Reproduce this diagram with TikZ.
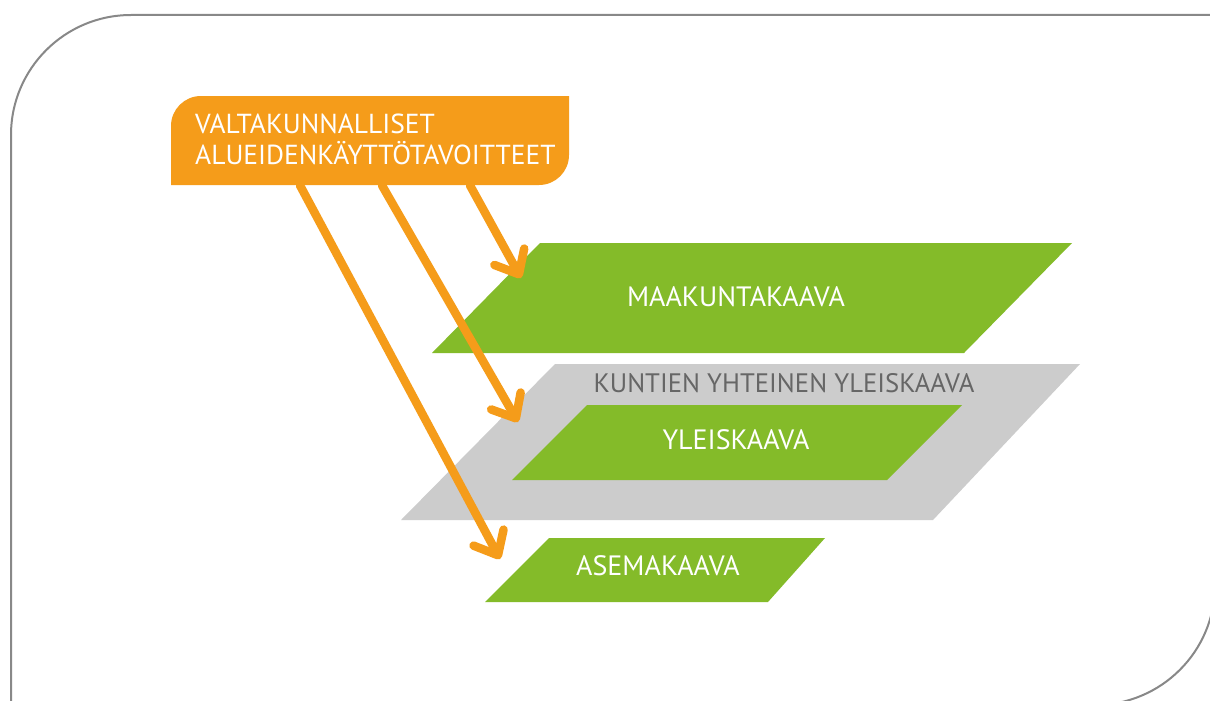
\documentclass[tikz,border=0pt]{standalone}
\usepackage{fontspec}
\setmainfont{PT Sans}
\usetikzlibrary{arrows.meta}
\definecolor{vatorange}{RGB}{245,156,26}
\definecolor{kaavagreen}{RGB}{132,187,41}
\definecolor{kaavagray}{RGB}{204,204,204}
\definecolor{framegray}{RGB}{136,136,136}
\definecolor{namegray}{RGB}{102,102,102}
\begin{document}
\begin{tikzpicture}[x=1pt,y=-1pt,
kaavatext/.style={
% The text:
text=white,
inner sep=0pt,
font=\fontsize{28}{31}\selectfont
},
plan/.style={fill=kaavagreen},
goal/.style={
draw=vatorange,line width=8.5pt,line cap=round,
-{Straight Barb[round,length=20pt,width=34pt]}
}
]
\clip (0,0) rectangle (1210,701);
\fill[white] (0,0) rectangle (1210,701);
% frame
\draw[framegray,line width=2pt] (11,710) -- (11,135) arc[start angle=180,end angle=270,radius=120] -- (1215,15) -- (1215,585) arc[start angle=0,end angle=90,radius=120] -- (0,705);
% plans
\fill[plan] (540,243) -- (1072,243) -- (964,353) -- (432,353) -- cycle;
\node (maak) [kaavatext] at (736,297) {MAAKUNTAKAAVA};
\fill[kaavagray] (555,364) -- (1080,364) -- (933,520) -- (401,520) -- cycle;
\node (kunt) [kaavatext,text=namegray,font=\fontsize{26.7}{31}\selectfont] at (784,383) {KUNTIEN YHTEINEN YLEISKAAVA};
\fill[plan] (587,405) -- (962,405) -- (887,480) -- (512,480) -- cycle;
\node (yleis) [kaavatext] at (736,440) {YLEISKAAVA};
\fill[plan] (549,538) -- (825,538) -- (768,602) -- (485,602) -- cycle;
\node (asema) [kaavatext] at (658,566) {ASEMAKAAVA};
% goals box
\fill[vatorange] (171,185) -- (171,126) arc[start angle=180,end angle=270,radius=30] -- (569,96) -- (569,155) arc[start angle=0,end angle=90,radius=30] -- cycle;
\node (vat) [kaavatext,font=\fontsize{27.5}{31}\selectfont,anchor=north west,minimum width=398pt,
  minimum height=89pt,inner xsep=24pt,text width=350pt,align=left] at (171,95) {VALTAKUNNALLISET\\ALUEIDENKÄYTTÖTAVOITTEET};
\coordinate (maak tip) at (521,278);
\coordinate (yleis tip) at (518,422);
\coordinate (asema tip) at (500,559);
\draw[goal] ([xshift=299pt,yshift=-1pt]vat.south west) -- (maak tip);
\draw[goal] ([xshift=211pt,yshift=-1pt]vat.south west) -- (yleis tip);
\draw[goal] ([xshift=129pt,yshift=-1pt]vat.south west) -- (asema tip);
\end{tikzpicture}
\end{document}
